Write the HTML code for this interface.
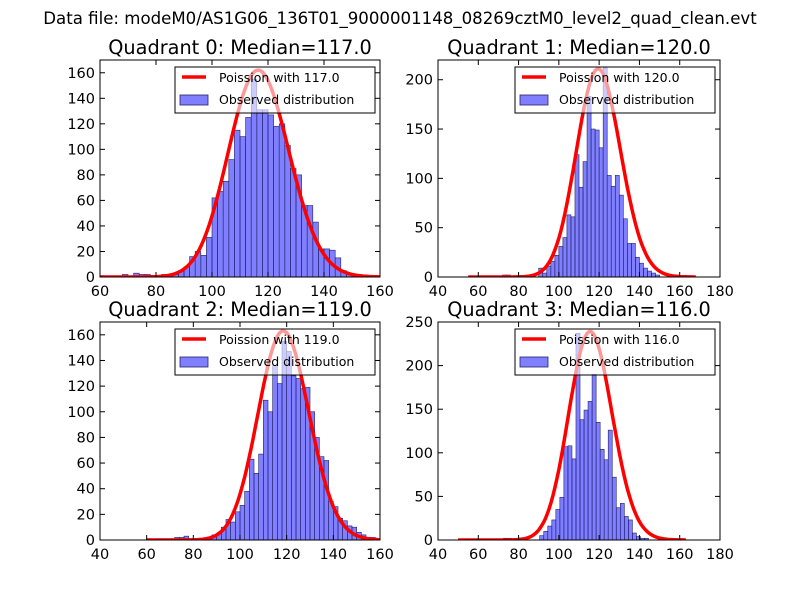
<!DOCTYPE html>
<html><head><meta charset="utf-8"><style>
html,body{margin:0;padding:0;background:#fff}
svg{display:block;font-family:"DejaVu Sans","Liberation Sans",sans-serif}
</style></head><body>
<svg id="fig" width="800" height="600" viewBox="0 0 800 600">
<rect width="800" height="600" fill="#fff"/>
<text x="400" y="24" text-anchor="middle" font-size="16.6">Data file: modeM0/AS1G06_136T01_9000001148_08269cztM0_level2_quad_clean.evt</text>
</svg>
<script>
// Panel data
const medians = [117, 120, 119, 116];
const binStart = [60, 56, 60, 64.5];
const binWidth = 2;
const counts0 = [1,0,0,0,2,0,3,2,2,0,0,2,2,2,5,8,16,20,17,31,62,67,75,92,115,110,125,155,131,131,127,118,120,103,85,80,56,56,43,22,22,21,15,5,3,2,1,1,0,1];
const counts1 = [1,0,0,0,0,0,0,0,2,2,0,0,0,0,0,0,0,9,4,11,16,22,31,40,63,61,124,91,117,183,150,149,131,212,103,92,103,83,59,34,34,20,14,9,6,4,2];
const counts2 = [1,0,1,1,1,1,2,2,3,1,1,1,1,2,4,5,10,16,14,22,27,38,63,52,67,109,100,136,122,155,147,128,126,118,119,100,80,65,62,30,26,17,15,11,10,6,4,2,2,0,2];
const counts3 = [1,0,1,1,2,2,1,1,0,0,0,0,0,5,10,16,23,35,49,107,108,93,237,138,149,159,190,135,104,92,126,72,37,42,27,23,8,4,2,2];
const curvePeaks = [162, 211, 163, 239];
const curveRange = [[60,160],[55,168],[60,160],[50,163]];
const yTicks0 = [0,20,40,60,80,100,120,140,160];
const yTicks1 = [0,50,100,150,200];
const yTicks2 = [0,20,40,60,80,100,120,140,160];
const yTicks3 = [0,50,100,150,200,250];
const xTicks0 = [60,80,100,120,140,160];
const xTicks1 = [40,60,80,100,120,140,160,180];
const xTicks2 = [40,60,80,100,120,140,160];
const xTicks3 = [40,60,80,100,120,140,160,180];

const allCounts=[counts0,counts1,counts2,counts3];
const allY=[yTicks0,yTicks1,yTicks2,yTicks3];
const allX=[xTicks0,xTicks1,xTicks2,xTicks3];
const boxes=[
 {l:100,r:380,t:60,b:277,xmin:60,xmax:160,ymax:170},
 {l:438,r:720,t:60,b:277,xmin:40,xmax:180,ymax:220},
 {l:100,r:380,t:322,b:540,xmin:40,xmax:160,ymax:170},
 {l:438,r:720,t:322,b:540,xmin:40,xmax:180,ymax:250}];
const NS="http://www.w3.org/2000/svg";
const svg=document.getElementById('fig');
function mk(tag,attrs,parent){const e=document.createElementNS(NS,tag);for(const k in attrs)e.setAttribute(k,attrs[k]);(parent||svg).appendChild(e);return e;}
function lgamma(n){let s=0;for(let i=2;i<=n;i++)s+=Math.log(i);return s;}
function pmf(k,m){return Math.exp(k*Math.log(m)-m-lgamma(k));}

for(let p=0;p<4;p++){
 const B=boxes[p];
 const sx=v=>B.l+(v-B.xmin)/(B.xmax-B.xmin)*(B.r-B.l);
 const sy=v=>B.b-v/B.ymax*(B.b-B.t);
 const g=mk('g',{});
 
 
 const cp=mk('clipPath',{id:'c'+p},g);mk('rect',{x:B.l,y:B.t,width:B.r-B.l,height:B.b-B.t},cp);
 const bars=mk('g',{'clip-path':'url(#c'+p+')'},g);
 
 
 allCounts[p].forEach((c,i)=>{
  if(c<=0)return;
  const x0=binStart[p]+i*binWidth;
  const r=mk('rect',{x:sx(x0),y:sy(c),width:sx(x0+binWidth)-sx(x0),height:sy(0)-sy(c),fill:'rgba(0,0,255,0.5)',stroke:'#222266','stroke-width':0.6},bars);
  
  
 });
 const m=medians[p],mode=Math.floor(m),pk=pmf(mode,m);
 let d='';
 for(let k=curveRange[p][0];k<=curveRange[p][1];k++){d+=(d?'L':'M')+sx(k).toFixed(1)+','+sy(curvePeaks[p]*pmf(k,m)/pk).toFixed(1);}
 const line=mk('path',{d:d,fill:'none',stroke:'#ff0000','stroke-width':3.5,'stroke-linejoin':'round','clip-path':'url(#c'+p+')'},g);
 
 
 mk('rect',{x:B.l,y:B.t,width:B.r-B.l,height:B.b-B.t,fill:'none',stroke:'#000','stroke-width':1},g);
 allY[p].forEach(v=>{
  const y=sy(v);
  mk('line',{x1:B.l,x2:B.l+5,y1:y,y2:y,stroke:'#000'},g);
  mk('line',{x1:B.r,x2:B.r-5,y1:y,y2:y,stroke:'#000'},g);
  const t=mk('text',{x:B.l-5,y:y+5,'text-anchor':'end','font-size':14.5},g);t.textContent=v;
  
  
 });
 allX[p].forEach(v=>{
  const x=sx(v);
  mk('line',{x1:x,x2:x,y1:B.b,y2:B.b-5,stroke:'#000'},g);
  mk('line',{x1:x,x2:x,y1:B.t,y2:B.t+5,stroke:'#000'},g);
  const t=mk('text',{x:x,y:B.b+19,'text-anchor':'middle','font-size':14.5},g);t.textContent=v;
  
  
 });
 const ti=mk('text',{x:(B.l+B.r)/2,y:B.t-6,'text-anchor':'middle','font-size':19.3},g);
 ti.textContent='Quadrant '+p+': Median='+m.toFixed(1);
 
 
 const lg=mk('g',{},g);
 
 
 const lx=B.r-205,ly=B.t+7;
 mk('rect',{x:lx,y:ly,width:200,height:46,fill:'rgba(255,255,255,0.6)',stroke:'#000','stroke-width':1},lg);
 mk('line',{x1:lx+7,x2:lx+31,y1:ly+10,y2:ly+10,stroke:'#ff0000','stroke-width':3.5},lg);
 mk('rect',{x:lx+5,y:ly+28,width:28,height:10,fill:'rgba(0,0,255,0.5)',stroke:'#222266','stroke-width':0.8},lg);
 const t1=mk('text',{x:lx+44,y:ly+15,'font-size':12.5},lg);t1.textContent='Poission with '+m.toFixed(1);
 
 
 const t2=mk('text',{x:lx+44,y:ly+37,'font-size':12.5},lg);t2.textContent='Observed distribution';
 
 
}
</script>
</body></html>
